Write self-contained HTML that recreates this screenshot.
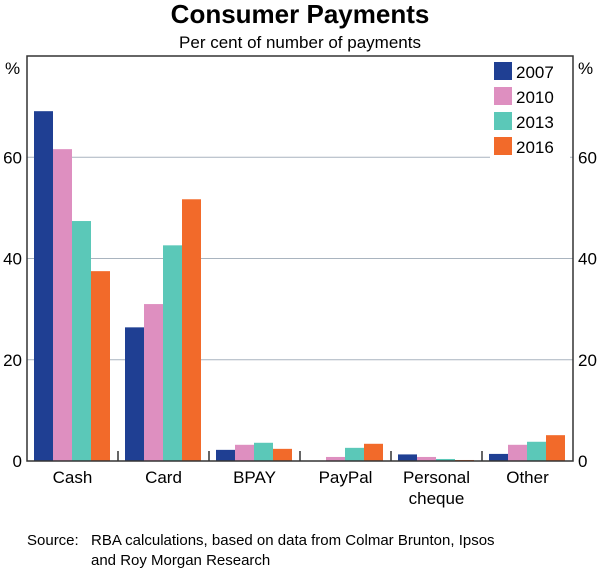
<!DOCTYPE html>
<html><head><meta charset="utf-8"><style>
body{margin:0;background:#fff;font-family:"Liberation Sans",sans-serif}
</style></head><body>
<svg id="c" width="600" height="570" xmlns="http://www.w3.org/2000/svg" font-family="Liberation Sans, sans-serif">
<text x="300" y="23" text-anchor="middle" font-size="26" font-weight="bold">Consumer Payments</text>
<text x="300" y="48" text-anchor="middle" font-size="17">Per cent of number of payments</text>
<text x="5" y="74" font-size="17">%</text>
<text x="578" y="74" font-size="17">%</text>
<g id="grid"></g><g id="bars"></g><g id="axes"></g>
<text x="27" y="545" font-size="15">Source:</text>
<text x="91" y="545" font-size="15">RBA calculations, based on data from Colmar Brunton, Ipsos</text>
<text x="91" y="565" font-size="15">and Roy Morgan Research</text>
</svg>
<script>
const categories=["Cash","Card","BPAY","PayPal","Personal|cheque","Other"];
const years=["2007","2010","2013","2016"];
const v2007=[69.1,26.4,2.2,0,1.3,1.4];
const v2010=[61.6,31,3.2,0.8,0.8,3.2];
const v2013=[47.4,42.6,3.6,2.6,0.4,3.8];
const v2016=[37.5,51.7,2.4,3.4,0.2,5.1];
const yTicks=[0,20,40,60];
const colors=["#1f3f93","#de8fc0","#5bc8b8","#f26a2a"];
const series=[v2007,v2010,v2013,v2016];
const NS="http://www.w3.org/2000/svg";
const L=27,R=573,T=56,B=461,yMax=80;
const y=v=>B-(v/yMax)*(B-T);
const cw=(R-L)/categories.length;
const x=i=>L+i*cw;
function mk(t,a,p){const e=document.createElementNS(NS,t);for(const k in a)e.setAttribute(k,a[k]);p.appendChild(e);return e;}
const g=document.getElementById('grid'),b=document.getElementById('bars'),ax=document.getElementById('axes');
yTicks.forEach(t=>{
 if(t>0){const l=mk('line',{x1:L,x2:R,y1:y(t),y2:y(t),stroke:'#a9b4bf','stroke-width':1},g);
 
 }
 const a=mk('text',{x:22,y:y(t)+6,'text-anchor':'end','font-size':17},ax);a.textContent=t;
 
 
 const c=mk('text',{x:578,y:y(t)+6,'font-size':17},ax);c.textContent=t;
 
 
});
const bw=19;
categories.forEach((cat,i)=>{
 series.forEach((s,j)=>{
  const r=mk('rect',{x:x(i)+7+j*bw,y:y(s[i]),width:bw,height:B-y(s[i]),fill:colors[j]},b);
  
  
 });
 const parts=cat.split('|');
 parts.forEach((p,k)=>{
  const t=mk('text',{x:x(i)+cw/2,y:483+k*21,'text-anchor':'middle','font-size':17},ax);t.textContent=p;
  
  
 });
 if(i>0){const tk=mk('line',{x1:x(i),x2:x(i),y1:B-10,y2:B,stroke:'#333','stroke-width':1.5},ax);
 
 }
});
const fr=mk('rect',{x:L,y:T,width:R-L,height:B-T,fill:'none',stroke:'#333','stroke-width':1.5},ax);


const lg=mk('g',{},ax);


mk('rect',{x:490,y:60,width:80,height:101,fill:'#fff'},lg);
years.forEach((yr,j)=>{
 const r=mk('rect',{x:494,y:62+j*25,width:18,height:18,fill:colors[j]},lg);
 
 
 const t=mk('text',{x:516,y:78+j*25,'font-size':17},lg);t.textContent=yr;
 
 
});
</script>
</body></html>
